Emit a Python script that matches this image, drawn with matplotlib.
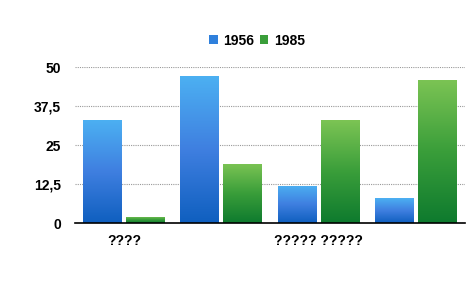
import matplotlib
matplotlib.use("Agg")
import matplotlib.pyplot as plt
import numpy as np
from matplotlib.colors import LinearSegmentedColormap
from matplotlib.patches import Patch

categories = ["????", "", "????? ?????", ""]
series_names = ["1956", "1985"]
values_1956 = [33, 47, 12, 8]
values_1985 = [2, 19, 33, 46]
yticks = [0, 12.5, 25, 37.5, 50]
ytick_labels = ["0", "12,5", "25", "37,5", "50"]

plt.rcParams['font.family'] = ['Liberation Sans Narrow', 'Liberation Sans', 'DejaVu Sans']

fig = plt.figure(figsize=(4.70, 3.01), dpi=100)
ax = fig.add_axes([0.16, 0.259, 0.829, 0.518])

x = np.arange(len(categories))
w = 0.40
off = 0.22
blue_cmap = LinearSegmentedColormap.from_list("b", ["#0f5fbf", "#3f7fe0", "#4cb0f2"])
green_cmap = LinearSegmentedColormap.from_list("g", ["#0e7a2e", "#3a9e3a", "#7cc454"])

grad = np.linspace(0, 1, 256).reshape(-1, 1)
for vals, dx, cmap, base in [(values_1956, -off, blue_cmap, "#2f80dc"), (values_1985, off, green_cmap, "#3a9e3a")]:
    bars = ax.bar(x + dx, vals, width=w, color=base, zorder=3, edgecolor="none")
    for b in bars:
        x0, y0 = b.get_x(), b.get_y()
        wd, ht = b.get_width(), b.get_height()
        im = ax.imshow(grad, extent=[x0, x0 + wd, y0, y0 + ht], origin="lower",
                       cmap=cmap, aspect="auto", zorder=4)
        im.set_clip_path(b)

ax.set_xlim(-0.5, 3.5)
ax.set_ylim(0, 50)
ax.set_yticks(yticks)
ax.set_yticklabels(ytick_labels, fontsize=10, fontweight="bold")
ax.set_xticks(x)
ax.set_xticklabels(categories, fontsize=10, fontweight="bold")
ax.tick_params(axis="both", length=0, pad=10)
ax.tick_params(axis="x", pad=8)
ax.yaxis.grid(True, color="#999999", linestyle=(0, (1, 1)), linewidth=0.8, zorder=0)
for s in ["top", "right", "left"]:
    ax.spines[s].set_visible(False)
ax.spines["bottom"].set_color("black")
ax.spines["bottom"].set_linewidth(1.2)
ax.spines["bottom"].set_zorder(5)

handles = [Patch(facecolor="#2f80dc"), Patch(facecolor="#3a9e3a")]
fig.legend(handles, series_names, loc="center", bbox_to_anchor=(0.547, 0.865), ncol=2,
           frameon=False, prop={"weight": "bold", "size": 10}, handlelength=0.6,
           handleheight=0.6, handletextpad=0.4, columnspacing=0.4)

fig.savefig("out.png", dpi=100)
